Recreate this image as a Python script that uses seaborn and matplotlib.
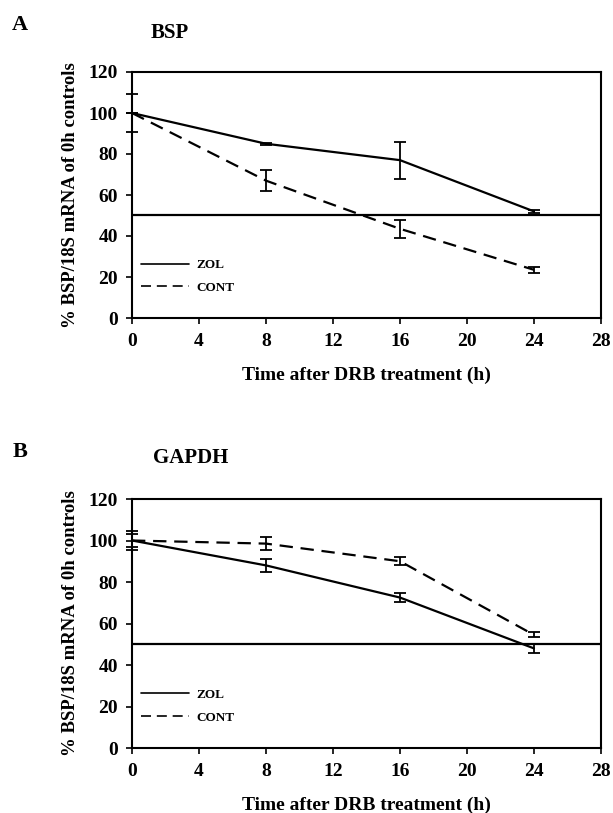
import numpy as np
import pandas as pd
import matplotlib
matplotlib.use('Agg')
import matplotlib.pyplot as plt
import seaborn as sns

# time points (h)
hours = [0, 8, 16, 24]

# Panel A: BSP
bsp_zol = [100, 85, 77, 52]
bsp_zol_err = [9.5, 0.5, 9, 0.8]
bsp_cont = [100, 67, 43.5, 23.5]
bsp_cont_err = [0, 5, 4.5, 1.5]

# Panel B: GAPDH
gapdh_zol = [100, 88, 72.5, 48]
gapdh_zol_err = [3, 3, 2, 2]
gapdh_cont = [100, 98.5, 90, 54.5]
gapdh_cont_err = [4.5, 3, 2, 1.2]

series_names = ['ZOL', 'CONT']
ylabel = '% BSP/18S mRNA of 0h controls'
xlabel = 'Time after DRB treatment (h)'

sns.set_theme(style='ticks')
plt.rcParams['font.family'] = ['Liberation Serif', 'DejaVu Serif']
plt.rcParams['font.weight'] = 'bold'
plt.rcParams['axes.labelweight'] = 'bold'
plt.rcParams['text.color'] = 'black'
plt.rcParams['axes.labelcolor'] = 'black'
plt.rcParams['xtick.color'] = 'black'
plt.rcParams['ytick.color'] = 'black'


def make_df(zol, zol_err, cont, cont_err):
    rows = []
    for name, vals, errs in [('ZOL', zol, zol_err), ('CONT', cont, cont_err)]:
        for h, v, e in zip(hours, vals, errs):
            rows.append({'hours': h, 'value': v, 'err': e, 'group': name})
    return pd.DataFrame(rows)


def panel(ax, df, letter, title, fig_letter_xy, title_xy):
    sns.lineplot(data=df, x='hours', y='value', style='group',
                 style_order=series_names,
                 dashes={'ZOL': '', 'CONT': (6, 3.5)},
                 color='black', linewidth=1.6, ax=ax)
    for name in series_names:
        sub = df[df['group'] == name]
        eb = ax.errorbar(sub['hours'], sub['value'], yerr=sub['err'], fmt='none',
                         ecolor='black', elinewidth=1.3, capsize=4.5, capthick=1.3)
        for art in eb.lines[1] + eb.lines[2]:
            art.set_clip_on(False)
    ax.axhline(50, color='black', linewidth=1.6)

    ax.set_xlim(0, 28)
    ax.set_ylim(0, 120)
    ax.set_xticks(np.arange(0, 29, 4))
    ax.set_yticks(np.arange(0, 121, 20))
    ax.tick_params(axis='both', labelsize=14, direction='out', length=4,
                   width=1.2, color='black')
    ax.tick_params(axis='x', pad=7)
    ax.tick_params(axis='y', pad=6)
    for lab in ax.get_xticklabels() + ax.get_yticklabels():
        lab.set_fontweight('bold')
    for sp in ax.spines.values():
        sp.set_visible(True)
        sp.set_color('black')
        sp.set_linewidth(1.5)
    ax.set_xlabel(xlabel, fontsize=14, labelpad=12)
    ax.set_ylabel(ylabel, fontsize=13.5, labelpad=7)

    leg = ax.legend(loc='lower left', bbox_to_anchor=(0.0, 0.06),
                    frameon=False, fontsize=9.5, handlelength=3.6,
                    labelspacing=0.8, borderaxespad=0.3, handletextpad=0.6)
    for t in leg.get_texts():
        t.set_fontweight('bold')
    for line in leg.get_lines():
        line.set_linewidth(1.2)
        line.set_color('black')

    fig = ax.figure
    fig.text(fig_letter_xy[0], fig_letter_xy[1], letter, fontsize=16,
             fontweight='bold', ha='center', va='center')
    fig.text(title_xy[0], title_xy[1], title, fontsize=15,
             fontweight='bold', ha='center', va='center')


W, H = 613, 813
fig = plt.figure(figsize=(W / 100, H / 100), dpi=100)

left = 132 / W
width = (601 - 132) / W
ax_a = fig.add_axes([left, 1 - 318 / H, width, (318 - 72) / H])
ax_b = fig.add_axes([left, 1 - 748 / H, width, (748 - 499) / H])

df_a = make_df(bsp_zol, bsp_zol_err, bsp_cont, bsp_cont_err)
df_b = make_df(gapdh_zol, gapdh_zol_err, gapdh_cont, gapdh_cont_err)

panel(ax_a, df_a, 'A', 'BSP', (20 / W, 1 - 25 / H), (170 / W, 1 - 33 / H))
panel(ax_b, df_b, 'B', 'GAPDH', (20 / W, 1 - 452 / H), (191 / W, 1 - 458 / H))

fig.savefig('out.png', dpi=100, facecolor='white')
